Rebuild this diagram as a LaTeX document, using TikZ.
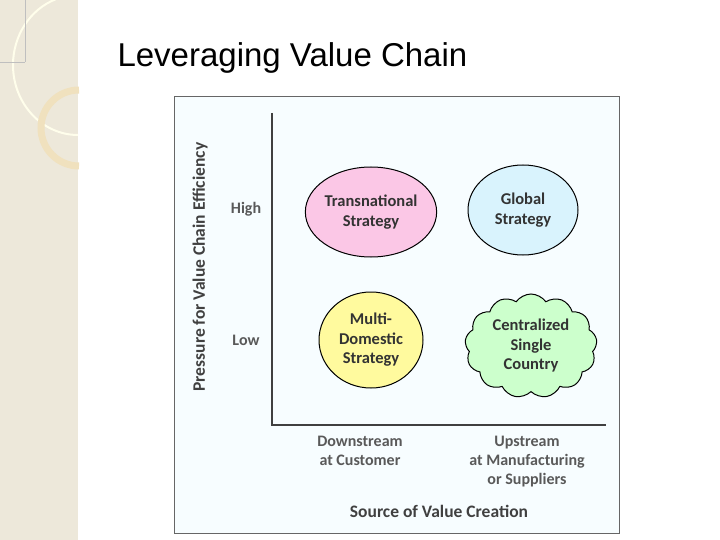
\documentclass[tikz,border=0pt]{standalone}
\usepackage{fontspec}
\setmainfont{Carlito}
\newfontfamily\titlefont{Liberation Sans}
\usetikzlibrary{shapes.symbols,shapes.geometric}
\definecolor{strip}{RGB}{237,232,218}
\definecolor{ring}{RGB}{240,225,190}
\begin{document}
\begin{tikzpicture}[x=1pt,y=-1pt,
  bub/.style={ellipse,draw=black,line width=1pt,align=center,font=\bfseries\fontsize{16.5}{19.5}\selectfont,text=black!80,inner sep=0pt},
  lab/.style={align=center,font=\bfseries\fontsize{16}{19}\selectfont,text=black!65}]
\useasboundingbox (0,0) rectangle (720,540);
\fill[white] (0,0) rectangle (720,540);
\fill[strip] (0,0) rectangle (78,540);
\draw[yellow!8!white,line width=2pt] (78,135) arc[start angle=-90,end angle=-250,x radius=65pt,y radius=70pt];
\draw[ring,line width=7pt] (79,90) arc[start angle=90,end angle=270,radius=38pt];
\draw[black!25,line width=0.3pt] (0,62) -- (25,62) (25,0) -- (25,62);
\node[anchor=west,font=\titlefont\fontsize{33}{38}\selectfont] (title) at (114,58) {Leveraging Value Chain};
\draw[black!60,fill=cyan!3!white] (174,96) rectangle (619,533);
\coordinate (o) at (272,425);
\coordinate (top) at (272,113);
\coordinate (right) at (606,425);
\draw[black!75,line width=1.3pt] (top) -- (o) -- (right);
\node[bub,fill=magenta!22!white,minimum width=104pt,minimum height=90pt] (tn) at (371,212) {Transnational\\Strategy};
\node[bub,fill=cyan!15!white,minimum width=110pt,minimum height=90pt] (gl) at (523,210) {Global\\Strategy};
\node[bub,fill=yellow!38!white,minimum width=104pt,minimum height=96pt] (md) at (371,340) {Multi-\\Domestic\\Strategy};
\node[cloud,cloud puffs=13,cloud puff arc=110,aspect=1.3,draw=black,line width=1pt,fill=green!20!white,align=center,font=\bfseries\fontsize{16.5}{19.5}\selectfont,text=black!80,minimum width=132pt,minimum height=104pt,inner sep=0pt] (cs) at (531,346) {Centralized\\Single\\Country};
\node[lab] (hi) at (246,209) {High};
\node[lab] (lo) at (246,340) {Low};
\node[lab,anchor=north] (ds) at (360,433) {Downstream\\at Customer};
\node[lab,anchor=north] (us) at (527,433) {Upstream\\at Manufacturing\\or Suppliers};
\node[font=\bfseries\fontsize{17.5}{20}\selectfont,text=black!75] (xl) at (439,511) {Source of Value Creation};
\node[font=\bfseries\fontsize{17.5}{20}\selectfont,text=black!75,rotate=90] (yl) at (200,267) {Pressure for Value Chain Efficiency};
\end{tikzpicture}
\end{document}
